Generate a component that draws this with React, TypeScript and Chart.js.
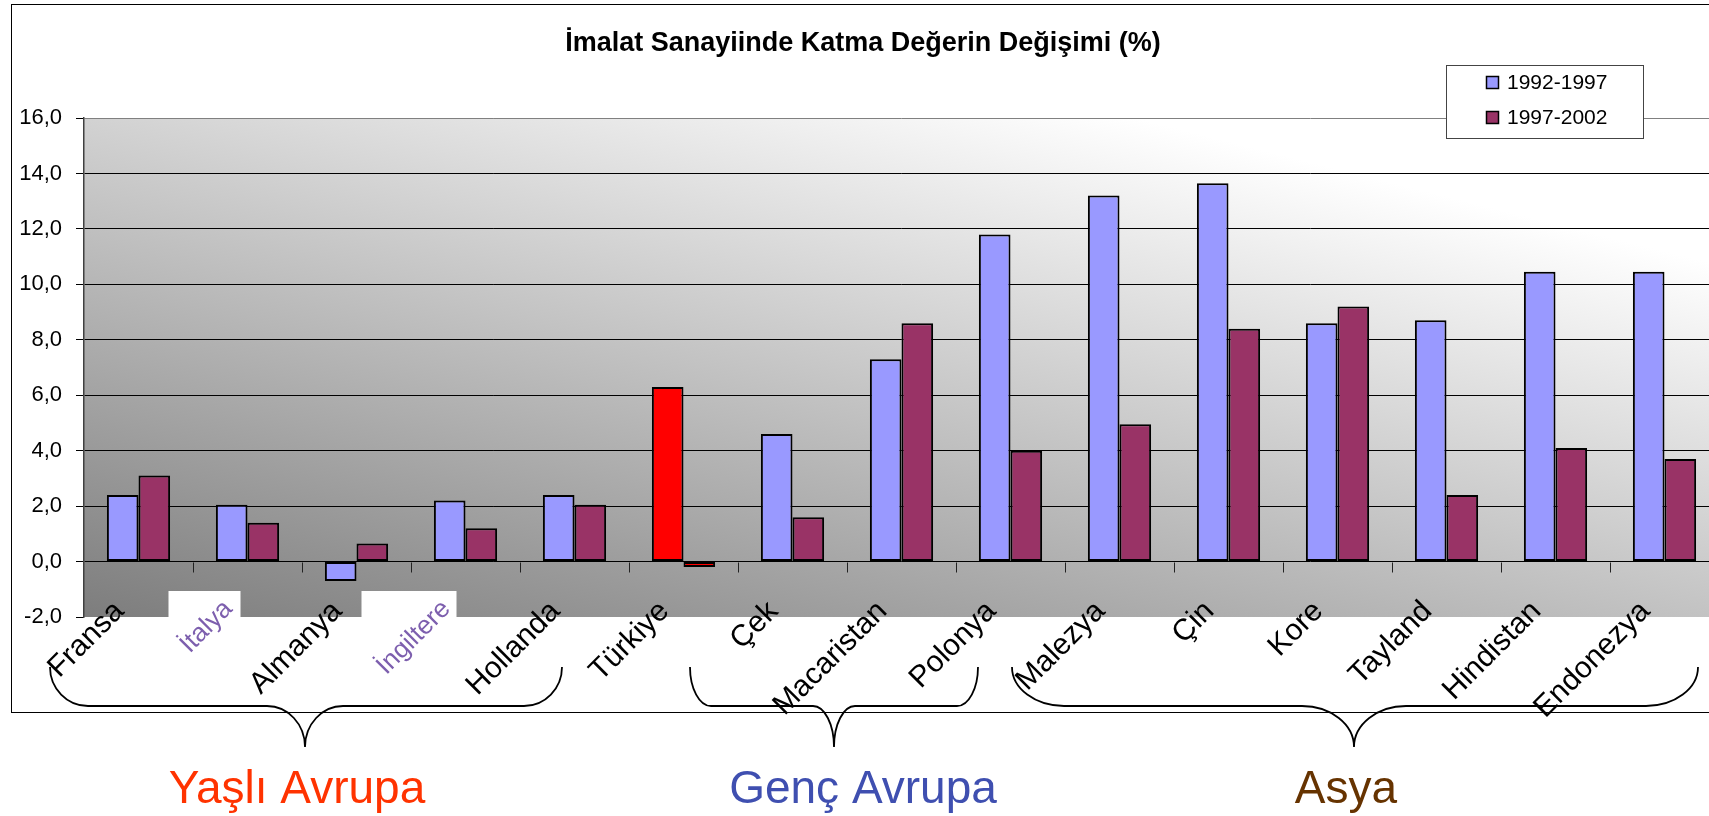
import React, { useEffect, useRef } from 'react';
import { Chart, registerables } from 'chart.js';

Chart.register(...registerables);

// ---------- data ----------
const TITLE = 'İmalat Sanayiinde Katma Değerin Değişimi (%)';
const CATEGORIES = ['Fransa', 'İtalya', 'Almanya', 'İngiltere', 'Hollanda', 'Türkiye', 'Çek', 'Macaristan', 'Polonya', 'Malezya', 'Çin', 'Kore', 'Tayland', 'Hindistan', 'Endonezya'];
const SERIES_NAMES = ['1992-1997', '1997-2002'];
const VALUES_1992_1997 = [2.4, 2.05, -0.7, 2.2, 2.4, 6.3, 4.6, 7.3, 11.8, 13.2, 13.65, 8.6, 8.7, 10.45, 10.45];
const VALUES_1997_2002 = [3.1, 1.4, 0.65, 1.2, 2.05, -0.2, 1.6, 8.6, 4.0, 4.95, 8.4, 9.2, 2.4, 4.1, 3.7];
const Y_MIN = -2;
const Y_MAX = 16;
const Y_STEP = 2;
const GROUP_NAMES = ['Yaşlı Avrupa', 'Genç Avrupa', 'Asya'];
const IMAGE_LABELS = ['İtalya', 'İngiltere'];
const HIGHLIGHT = 'Türkiye';

// ---------- layout & style ----------
const FONT = '"Liberation Sans", Arial, sans-serif';
const PAGE_W = 1709;
const PAGE_H = 816;
const CANVAS_W = 1730;
const PLOT = { left: 84, top: 118, bottom: 617, right: 1719 };
const FRAME = { left: 11.5, top: 4.5, bottom: 712.5 };
const COLOR_A = '#9999FF';
const COLOR_B = '#993366';
const COLOR_HI = '#FF0000';
const GRAD = { base: 125, alpha: 70, beta: 85 };
const IMAGE_BOX = [{ dx1: -79, dx2: -7 }, { dx1: -104, dx2: -9 }];
const IMAGE_BOX_TOP = 591;
const BRACES = [
  { x1: 50, tip: 305, x2: 562, r: 38 },
  { x1: 690, tip: 834, x2: 978, r: 21 },
  { x1: 1012, tip: 1354, x2: 1698, r: 52 },
];
const BRACE_Y = { end: 667, line: 706, tip: 747 };
const GROUP_LABEL_X = [297, 863, 1346];
const GROUP_LABEL_Y = 803;
const GROUP_COLORS = ['#FF3300', '#3F4FB0', '#663300'];
const LEGEND = { x: 1446, y: 65, w: 197, h: 73 };

const fmt = (v: number) => Number(v).toFixed(1).replace('.', ',');

const decor = {
  id: 'decor',
  beforeDraw(chart: any) {
    const { ctx, chartArea: a } = chart;
    ctx.save();
    ctx.fillStyle = '#fff';
    ctx.fillRect(0, 0, chart.width, chart.height);
    // outer frame
    ctx.strokeStyle = '#000';
    ctx.lineWidth = 1;
    ctx.strokeRect(FRAME.left, FRAME.top, 1800, FRAME.bottom - FRAME.top);
    // plot gradient
    const w = a.right - a.left;
    const h = a.bottom - a.top;
    const gx = GRAD.alpha / w;
    const gy = -GRAD.beta / h;
    const s = (255 - GRAD.base) / (gx * gx + gy * gy);
    const grad = ctx.createLinearGradient(a.left, a.bottom, a.left + gx * s, a.bottom + gy * s);
    grad.addColorStop(0, `rgb(${GRAD.base},${GRAD.base},${GRAD.base})`);
    grad.addColorStop(1, '#ffffff');
    ctx.fillStyle = grad;
    ctx.fillRect(a.left, a.top, w, h);
    // white boxes of labels pasted as pictures
    const xs = chart.scales.x;
    ctx.fillStyle = '#fff';
    IMAGE_LABELS.forEach((lab, k) => {
      const i = CATEGORIES.indexOf(lab);
      const c = xs.getPixelForValue(i);
      ctx.fillRect(c + IMAGE_BOX[k].dx1, IMAGE_BOX_TOP, IMAGE_BOX[k].dx2 - IMAGE_BOX[k].dx1, a.bottom - IMAGE_BOX_TOP + 1);
    });
    ctx.restore();
  },
  beforeDatasetsDraw(chart: any) {
    const { ctx } = chart;
    const xs = chart.scales.x;
    const ys = chart.scales.y;
    const y0 = Math.round(ys.getPixelForValue(0)) + 0.5;
    const half = (xs.getPixelForValue(1) - xs.getPixelForValue(0)) / 2;
    ctx.save();
    ctx.strokeStyle = '#222';
    ctx.lineWidth = 1;
    ctx.beginPath();
    for (let i = 0; i < CATEGORIES.length; i++) {
      const xb = Math.round(xs.getPixelForValue(i) + half) + 0.5;
      ctx.moveTo(xb, y0);
      ctx.lineTo(xb, y0 + 10);
    }
    ctx.stroke();
    ctx.restore();
  },
  afterDraw(chart: any) {
    const { ctx } = chart;
    ctx.save();
    // title
    ctx.fillStyle = '#000';
    ctx.font = `bold 27px ${FONT}`;
    ctx.textAlign = 'center';
    ctx.textBaseline = 'alphabetic';
    ctx.fillText(TITLE, 863, 51);

    // legend
    ctx.fillStyle = '#fff';
    ctx.fillRect(LEGEND.x, LEGEND.y, LEGEND.w, LEGEND.h);
    ctx.strokeStyle = '#444';
    ctx.lineWidth = 1;
    ctx.strokeRect(LEGEND.x + 0.5, LEGEND.y + 0.5, LEGEND.w, LEGEND.h);
    const legColors = [COLOR_A, COLOR_B];
    chart.data.datasets.forEach((ds: any, i: number) => {
      const cy = LEGEND.y + 17 + i * 35;
      ctx.fillStyle = legColors[i];
      ctx.fillRect(LEGEND.x + 40, cy - 6, 13, 13);
      ctx.strokeStyle = '#000';
      ctx.lineWidth = 1.5;
      ctx.strokeRect(LEGEND.x + 40.5, cy - 5.5, 12, 12);
      ctx.fillStyle = '#000';
      ctx.font = `21px ${FONT}`;
      ctx.textAlign = 'left';
      ctx.textBaseline = 'middle';
      ctx.fillText(ds.label, LEGEND.x + 61, cy + 1);
    });

    // braces
    ctx.strokeStyle = '#000';
    ctx.lineWidth = 1.8;
    const k = 0.552;
    const { end, line, tip } = BRACE_Y;
    BRACES.forEach((b) => {
      const r = b.r;
      ctx.beginPath();
      ctx.moveTo(b.x1, end);
      ctx.bezierCurveTo(b.x1, end + k * (line - end), b.x1 + r - k * r, line, b.x1 + r, line);
      ctx.lineTo(b.tip - r, line);
      ctx.bezierCurveTo(b.tip - r + k * r, line, b.tip, tip - k * (tip - line), b.tip, tip);
      ctx.bezierCurveTo(b.tip, tip - k * (tip - line), b.tip + r - k * r, line, b.tip + r, line);
      ctx.lineTo(b.x2 - r, line);
      ctx.bezierCurveTo(b.x2 - r + k * r, line, b.x2, end + k * (line - end), b.x2, end);
      ctx.stroke();
    });

    // group labels
    ctx.font = `46px ${FONT}`;
    ctx.textAlign = 'center';
    ctx.textBaseline = 'alphabetic';
    GROUP_NAMES.forEach((g, i) => {
      ctx.fillStyle = GROUP_COLORS[i];
      ctx.fillText(g, GROUP_LABEL_X[i], GROUP_LABEL_Y);
    });
    ctx.restore();
  },
};

export default function App() {
  const ref = useRef<HTMLCanvasElement>(null);
  useEffect(() => {
    document.body.style.margin = '0';
    const canvas = ref.current;
    if (!canvas) return;
    const colorsFor = (base: string) => CATEGORIES.map((c) => (c === HIGHLIGHT ? COLOR_HI : base));
    const chart = new Chart(canvas, {
      type: 'bar',
      data: {
        labels: CATEGORIES,
        datasets: [
          {
            label: SERIES_NAMES[0],
            data: VALUES_1992_1997,
            backgroundColor: colorsFor(COLOR_A),
            borderColor: '#000',
            borderWidth: 2,
            borderSkipped: false,
            categoryPercentage: 0.58,
            barPercentage: 1,
          },
          {
            label: SERIES_NAMES[1],
            data: VALUES_1997_2002,
            backgroundColor: colorsFor(COLOR_B),
            borderColor: '#000',
            borderWidth: 2,
            borderSkipped: false,
            categoryPercentage: 0.58,
            barPercentage: 1,
          },
        ],
      },
      options: {
        responsive: false,
        animation: false,
        devicePixelRatio: 1,
        layout: { padding: { left: 0, top: PLOT.top, right: CANVAS_W - PLOT.right, bottom: 0 } },
        plugins: {
          legend: { display: false },
          title: { display: false },
          tooltip: { enabled: false },
        },
        scales: {
          x: {
            offset: true,
            grid: { display: false, drawTicks: false },
            border: { display: false },
            ticks: {
              autoSkip: false,
              minRotation: 45,
              maxRotation: 45,
              padding: -23,
              labelOffset: -19,
              color: (c: any) => (IMAGE_LABELS.includes(CATEGORIES[c.index]) ? '#7d5fae' : '#000'),
              font: (c: any) => ({ family: FONT, size: IMAGE_LABELS.includes(CATEGORIES[c.index]) ? 26 : 30 }),
            },
            afterFit: (s: any) => {
              s.height = PAGE_H - PLOT.bottom;
              s._computeLabelArea = () => undefined;
            },
          },
          y: {
            min: Y_MIN,
            max: Y_MAX,
            ticks: {
              stepSize: Y_STEP,
              color: '#000',
              padding: 14,
              font: { family: FONT, size: 22 },
              callback: (v: any) => fmt(v),
            },
            grid: {
              color: (c: any) => (c.tick && c.tick.value === Y_MAX ? '#808080' : c.tick && c.tick.value === Y_MIN ? 'rgba(0,0,0,0)' : '#000'),
              tickColor: '#000',
              tickLength: 8,
              lineWidth: 1,
            },
            border: { display: true, color: '#404040', width: 1.5 },
            afterFit: (s: any) => { s.width = PLOT.left; },
          },
        },
      },
      plugins: [decor],
    } as any);
    return () => chart.destroy();
  }, []);
  return (
    <div style={{ position: 'fixed', left: 0, top: 0, width: PAGE_W, height: PAGE_H, overflow: 'hidden', background: '#fff' }}>
      <canvas ref={ref} width={CANVAS_W} height={PAGE_H} style={{ display: 'block', width: CANVAS_W, height: PAGE_H }} />
    </div>
  );
}
